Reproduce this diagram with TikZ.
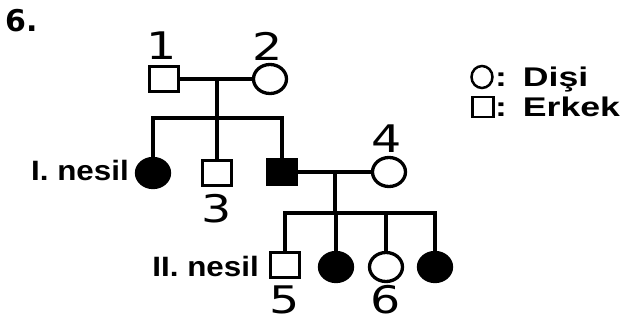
\documentclass[tikz,border=0pt]{standalone}
\usepackage{fontspec}
\usepackage{graphicx}
\setmainfont{Liberation Sans}
\newfontfamily\numfont{DejaVu Sans}
\newfontfamily\numboldfont{DejaVu Sans Bold}
\usetikzlibrary{shapes.geometric}
% horizontally widened text
\newcommand{\widen}[2]{\scalebox{#1}[1]{#2}}
\tikzset{
  x=1pt, y=-1pt,
  lw/.style={line width=3.3pt},
  female/.style={ellipse, draw, lw, minimum width=33pt, minimum height=29pt, inner sep=0pt},
  male/.style={rectangle, draw, lw, minimum width=29pt, minimum height=25pt, inner sep=0pt},
  affected/.style={fill=black},
  num/.style={inner sep=0pt, font=\numfont\fontsize{38}{40}\selectfont},
  gen/.style={inner sep=0pt, anchor=east, font=\bfseries\fontsize{28}{30}\selectfont},
  legtext/.style={inner sep=0pt, anchor=base west, font=\bfseries\fontsize{27}{30}\selectfont},
  legfemale/.style={ellipse, draw, line width=2.5pt, minimum width=21pt, minimum height=22pt, inner sep=0pt},
  legmale/.style={rectangle, draw, line width=2.5pt, minimum width=21pt, minimum height=20pt, inner sep=0pt},
  link/.style={line width=3.1pt}
}
\begin{document}
\begin{tikzpicture}
\useasboundingbox (0,0) rectangle (622,326);

% question number
\node[inner sep=0pt, anchor=west, font=\numboldfont\fontsize{30}{32}\selectfont] (qn) at (5,21) {6.};

% parents
\node[male] (p1) at (164,79) {};
\node[female] (p2) at (270,79) {};
\node[num] (l1) at (162,46) {\widen{1.25}{1}};
\node[num] (l2) at (268,46) {\widen{1.25}{2}};
\coordinate (m1) at (217,79);
\coordinate (s1) at (217,118);

% first generation
\node[female, affected] (c1) at (153,173) {};
\node[male] (c3) at (217,173) {};
\node[male, affected] (c4) at (282,172) {};
\node[female] (p4) at (389,172) {};
\node[num] (l3) at (217,209) {\widen{1.25}{3}};
\node[num] (l4) at (387,139) {\widen{1.25}{4}};
\node[gen] (g1) at (129,170) {\widen{1.12}{I. nesil}};
\coordinate (m2) at (335,172);
\coordinate (s2) at (335,213);

% second generation
\node[male] (d5) at (285,265) {};
\node[female, affected] (d7) at (336,267) {};
\node[female] (d6) at (386,267) {};
\node[female, affected] (d8) at (435,267) {};
\node[num] (l5) at (285,300) {\widen{1.25}{5}};
\node[num] (l6) at (386,300) {\widen{1.25}{6}};
\node[gen] (g2) at (259,266) {\widen{1.12}{II. nesil}};

% connectors, first family
\draw[link] (p1) -- (p2);
\draw[link] (m1) -- (s1);
\draw[link, line cap=rect] (c1 |- s1) -- (c4 |- s1);
\draw[link] (c1 |- s1) -- (c1);
\draw[link] (s1) -- (c3);
\draw[link] (c4 |- s1) -- (c4);

% connectors, second family
\draw[link] (c4) -- (p4);
\draw[link] (m2) -- (s2);
\draw[link, line cap=rect] (d5 |- s2) -- (d8 |- s2);
\draw[link] (d5 |- s2) -- (d5);
\draw[link] (d7 |- s2) -- (d7);
\draw[link] (d6 |- s2) -- (d6);
\draw[link] (d8 |- s2) -- (d8);

% legend
\node[legfemale] (kf) at (482,77) {};
\node[legmale] (km) at (483,107) {};
\node[legtext] (tf) at (495,87) {\widen{1.32}{:\hspace{2pt} Dişi}};
\node[legtext] (tm) at (495,117) {\widen{1.32}{:\hspace{2pt} Erkek}};
\end{tikzpicture}
\end{document}
